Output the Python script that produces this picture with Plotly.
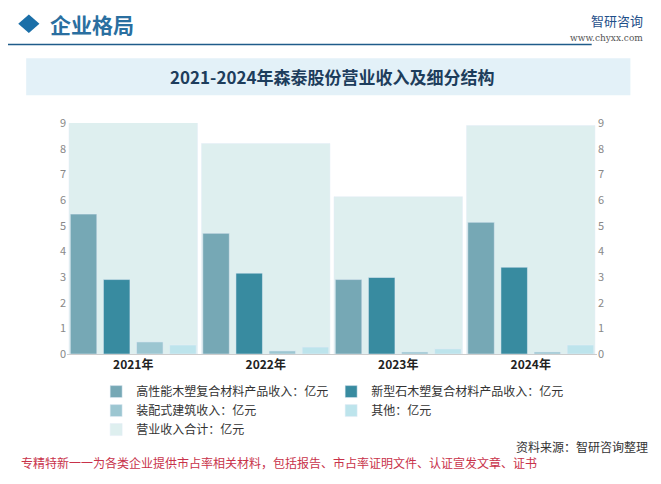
import plotly.graph_objects as go

# 数据
years = ["2021年", "2022年", "2023年", "2024年"]
wpc = [5.45, 4.7, 2.9, 5.13]
stone = [2.9, 3.15, 2.98, 3.38]
build = [0.47, 0.12, 0.08, 0.08]
other = [0.35, 0.27, 0.2, 0.35]
total = [9.03, 8.2, 6.13, 8.9]

names = ["高性能木塑复合材料产品收入：亿元", "新型石木塑复合材料产品收入：亿元",
         "装配式建筑收入：亿元", "其他：亿元"]
colors = ["#76a8b5", "#388ba0", "#9cc6d1", "#bde4ec"]

fig = go.Figure()
# 合计作为背景，放在主轴上
fig.add_trace(go.Bar(x=years, y=total, name="营业收入合计：亿元", marker_color="#deefef",
                     width=0.97, xaxis="x", yaxis="y", legendrank=5))
for i, vals in enumerate([wpc, stone, build, other]):
    fig.add_trace(go.Bar(x=years, y=vals, name=names[i], marker_color=colors[i],
                         xaxis="x2", yaxis="y2", legendrank=i + 1))

fig.update_layout(
    width=653, height=476,
    margin=dict(l=59, r=64, t=115, b=130, autoexpand=False),
    paper_bgcolor="white", plot_bgcolor="rgba(0,0,0,0)",
    font=dict(family="Noto Sans CJK SC", size=12, color="#333"),
    barmode="group", bargap=0, bargroupgap=0.2,
    showlegend=True,
    legend=dict(orientation="h", x=0.055, y=-0.1, xanchor="left", yanchor="top",
                traceorder="normal", entrywidth=190, entrywidthmode="pixels",
                itemwidth=30, font=dict(size=12, color="#333")),
    xaxis=dict(showgrid=False, showline=True, linecolor="#ccc", ticks="",
               tickprefix="<b>", ticksuffix="</b>",
               tickfont=dict(size=12, color="#222", family="Noto Sans CJK SC"),
               range=[-0.5, 3.5]),
    xaxis2=dict(overlaying="x", showticklabels=False, showgrid=False, range=[-0.5, 3.5]),
    yaxis=dict(range=[0, 9], dtick=1, showgrid=False, tickfont=dict(color="#888", size=11)),
    yaxis2=dict(range=[0, 9], dtick=1, overlaying="y", side="right", showgrid=False,
                tickfont=dict(color="#888", size=11)),
)

shapes = [
    dict(type="rect", xref="paper", yref="paper", x0=-0.077, x1=1.063, y0=1.12, y1=1.28,
         fillcolor="#e3f1f8", line_width=0, layer="below"),
    dict(type="line", xref="paper", yref="paper", x0=-0.115, x1=0.99, y0=1.34, y1=1.34,
         line=dict(color="#1f5c8a", width=1.5)),
    dict(type="path", xref="paper", yref="paper",
         path="M -0.072 1.39 L -0.052 1.43 L -0.072 1.47 L -0.092 1.43 Z",
         fillcolor="#1b6fa8", line_width=0),
]
fig.update_layout(shapes=shapes)

def note(text, x, y, size, color, xanchor="center", family=None):
    fig.add_annotation(text=text, xref="paper", yref="paper", x=x, y=y,
                       xanchor=xanchor, yanchor="middle", showarrow=False,
                       font=dict(size=size, color=color, family=family))

note("<b>2021-2024年森泰股份营业收入及细分结构</b>", 0.5, 1.2, 17, "#1d3d5c")
note("<b>企业格局</b>", -0.035, 1.43, 21, "#2a6fa0", "left")
note("智研咨询", 1.09, 1.445, 13, "#1f4f8a", "right")
note("www.chyxx.com", 1.09, 1.37, 9, "#555", "right", "DejaVu Serif")
note("资料来源：智研咨询整理", 1.1, -0.4, 12, "#333", "right")
note("专精特新一一为各类企业提供市占率相关材料，包括报告、市占率证明文件、认证宣发文章、证书",
     -0.09, -0.47, 12, "#c8324a", "left")

fig.write_html("out.html")
